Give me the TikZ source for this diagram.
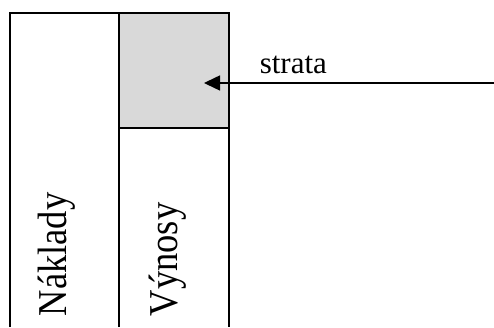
\documentclass[tikz,border=0pt]{standalone}
\usepackage{fontspec}
\setmainfont{Liberation Serif}
\usetikzlibrary{arrows.meta}

\tikzset{
    column label/.style={rotate=90,anchor=base west,inner sep=0pt,font=\fontsize{41}{48}\selectfont},
}

\begin{document}
\begin{tikzpicture}[x=1pt,y=1pt,line width=1.6pt]
        \useasboundingbox (0,0) rectangle (494,327);

        \fill[black!15] (119,199) rectangle (229,314);
        \draw (10,0) |- (229,314) -- (229,0);
        \draw (119,0) -- (119,314);
        \draw (119,199) -- (229,199);

        \coordinate (loss) at (204,244);
        \coordinate (from) at (494,244);
        \draw[line width=1.5pt,-{Triangle[length=16pt,width=15pt]}] (from) -- (loss);
        \node (strata) [anchor=base west,inner sep=0pt,font=\fontsize{31}{37}\selectfont] at (259,253) {strata};

        \node (naklady) [column label] at (66,10) {\scalebox{0.89}[1]{Náklady}};
        \node (vynosy) [column label] at (177,10) {\scalebox{0.89}[1]{Výnosy}};
    \end{tikzpicture}
\end{document}
